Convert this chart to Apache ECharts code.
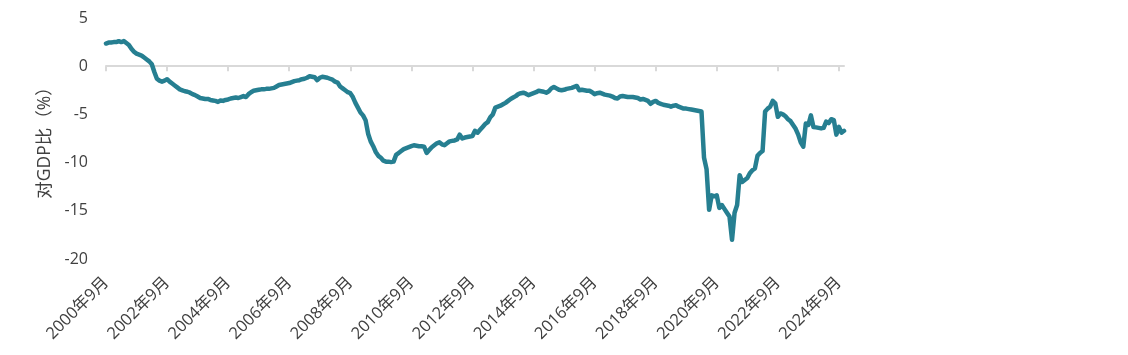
<!DOCTYPE html>
<html>
<head>
<meta charset="utf-8">
<script src="https://cdn.jsdelivr.net/npm/echarts@6/dist/echarts.min.js"></script>
<style>
html,body{margin:0;padding:0;background:#fff;}
#chart{width:1128px;height:355px;}
</style>
</head>
<body>
<div id="chart"></div>
<script>
// Monthly categories: 2000-09 ... 2024-11
var startYear = 2000, startMonth = 9, monthCount = 291;
var categories = [];
for (var k = 0; k < monthCount; k++) {
  var m = startMonth - 1 + k;
  categories.push((startYear + Math.floor(m / 12)) + '年' + (m % 12 + 1) + '月');
}

// Fiscal balance, % of GDP (12-month rolling)
var balance = [
  2.35, 2.45, 2.45, 2.5, 2.5, 2.6, 2.5, 2.6, 2.4, 2.2, 1.8, 1.5,
  1.3, 1.2, 1.1, 0.9, 0.7, 0.5, 0.2, -0.6, -1.3, -1.5, -1.6, -1.5,
  -1.35, -1.6, -1.8, -2.0, -2.2, -2.4, -2.5, -2.6, -2.65, -2.75, -2.9, -3.0,
  -3.15, -3.3, -3.35, -3.4, -3.4, -3.5, -3.55, -3.6, -3.7, -3.55, -3.6, -3.5,
  -3.45, -3.35, -3.3, -3.25, -3.3, -3.2, -3.1, -3.2, -2.9, -2.7, -2.55, -2.5,
  -2.45, -2.4, -2.4, -2.35, -2.35, -2.3, -2.25, -2.1, -1.95, -1.9, -1.85, -1.8,
  -1.75, -1.65, -1.55, -1.5, -1.45, -1.35, -1.3, -1.2, -1.05, -1.1, -1.15, -1.45,
  -1.2, -1.1, -1.15, -1.2, -1.3, -1.4, -1.6, -1.7, -2.1, -2.3, -2.5, -2.7,
  -2.8, -3.2, -3.8, -4.3, -4.8, -5.1, -5.6, -7.0, -7.8, -8.3, -8.9, -9.3,
  -9.5, -9.8, -9.9, -9.9, -9.95, -9.9, -9.2, -9.0, -8.8, -8.6, -8.5, -8.4,
  -8.3, -8.2, -8.25, -8.3, -8.3, -8.35, -9.0, -8.7, -8.4, -8.2, -8.0, -7.9,
  -8.1, -8.2, -8.0, -7.8, -7.75, -7.7, -7.6, -7.1, -7.5, -7.4, -7.35, -7.3,
  -7.25, -6.7, -6.9, -6.6, -6.3, -6.0, -5.8, -5.3, -5.0, -4.3, -4.2, -4.1,
  -3.95, -3.8, -3.6, -3.4, -3.25, -3.1, -2.9, -2.8, -2.75, -2.85, -3.0, -2.9,
  -2.8, -2.7, -2.55, -2.6, -2.65, -2.75, -2.6, -2.3, -2.15, -2.3, -2.45, -2.5,
  -2.45, -2.35, -2.3, -2.25, -2.15, -2.05, -2.5, -2.45, -2.5, -2.55, -2.55, -2.7,
  -2.9, -2.8, -2.75, -2.85, -2.95, -3.0, -3.05, -3.15, -3.3, -3.35, -3.15, -3.1,
  -3.15, -3.2, -3.2, -3.2, -3.25, -3.3, -3.45, -3.4, -3.5, -3.6, -3.9, -3.7,
  -3.6, -3.8, -3.9, -4.0, -4.05, -4.1, -4.2, -4.1, -4.05, -4.2, -4.3, -4.4,
  -4.4, -4.45, -4.5, -4.55, -4.6, -4.65, -4.7, -9.5, -10.7, -14.9, -13.4, -13.5,
  -13.4, -14.7, -14.4, -14.8, -15.2, -15.6, -18.0, -15.2, -14.4, -11.3, -12.0, -11.8,
  -11.6, -11.1, -10.8, -10.6, -9.3, -9.0, -8.8, -4.7, -4.4, -4.2, -3.6, -3.85,
  -5.25, -4.9, -5.0, -5.2, -5.5, -5.7, -6.1, -6.5, -7.1, -7.9, -8.35, -5.95,
  -6.1, -5.1, -6.3, -6.35, -6.4, -6.45, -6.4, -5.75, -5.9, -5.5, -5.6, -7.1,
  -6.3, -6.9, -6.7
];

var yTicks = { min: -20, max: 5, interval: 5 };
var yName = '对GDP比（%）';
var labelEvery = 24;

function everyN(i) { return i % labelEvery === 0; }

var FONT = "'Open Sans', 'Noto Sans CJK SC', sans-serif";
var chart = echarts.init(document.getElementById('chart'), null, { renderer: 'canvas' });
chart.setOption({
  animation: false,
  backgroundColor: '#ffffff',
  grid: { left: 106, right: 284, top: 18, bottom: 96, containLabel: false, outerBoundsMode: 'none' },
  xAxis: [{
    // label axis at the bottom of the plot
    type: 'category',
    data: categories,
    boundaryGap: false,
    position: 'bottom',
    axisLine: { show: false, onZero: false },
    axisTick: { show: false },
    axisLabel: {
      interval: everyN,
      rotate: 45,
      margin: 21,
      color: '#404040',
      fontSize: 16.5,
      fontFamily: FONT
    },
    splitLine: { show: false }
  }, {
    // zero line with ticks
    type: 'category',
    data: categories,
    boundaryGap: false,
    position: 'top',
    axisLine: { show: true, onZero: true, lineStyle: { color: '#d9d9d9', width: 2 } },
    axisTick: { show: true, inside: true, length: 5, interval: everyN, lineStyle: { color: '#d9d9d9', width: 2 } },
    axisLabel: { show: false },
    splitLine: { show: false }
  }],
  yAxis: {
    type: 'value',
    min: yTicks.min, max: yTicks.max, interval: yTicks.interval,
    name: yName,
    nameLocation: 'middle',
    nameRotate: 90,
    nameGap: 51,
    nameTextStyle: { color: '#404040', fontSize: 17.5, fontFamily: FONT },
    axisLine: { show: false },
    axisTick: { show: false },
    splitLine: { show: false },
    axisLabel: { color: '#404040', fontSize: 16, fontFamily: FONT, margin: 18 }
  },
  series: [{
    type: 'line',
    xAxisIndex: 0,
    data: balance,
    showSymbol: false,
    symbol: 'none',
    lineStyle: { color: '#267f91', width: 4.5, join: 'round', cap: 'round' },
    itemStyle: { color: '#267f91' }
  }]
});
</script>
</body>
</html>
